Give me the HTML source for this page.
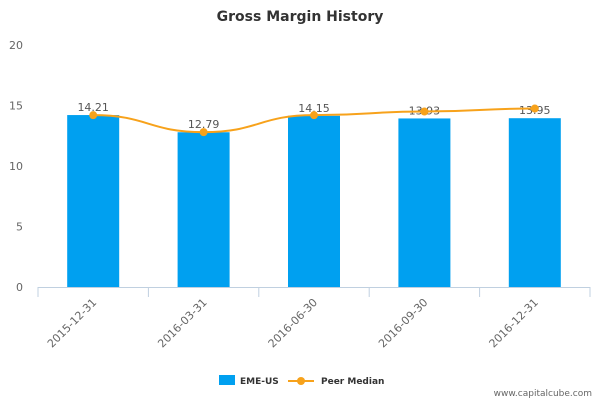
<!DOCTYPE html>
<html><head><meta charset="utf-8"><style>
body{margin:0;background:#fff;font-family:"Liberation Sans",sans-serif}
svg text{font-family:"DejaVu Sans","Liberation Sans",sans-serif}
</style></head><body>
<svg id="c" width="600" height="400">
<text x="300" y="21" text-anchor="middle" font-size="14" font-weight="bold" fill="#333">Gross Margin History</text>
<g id="yaxis"></g><g id="bars"></g><g id="line"></g><g id="xaxis"></g>
<g>
<rect x="219" y="375" width="16" height="10" fill="#00a0f0"/>
<text x="240" y="384" font-size="9" font-weight="bold" fill="#333">EME-US</text>
<line x1="288" y1="381" x2="314" y2="381" stroke="#f7a21b" stroke-width="2"/>
<circle cx="301" cy="381" r="4" fill="#f7a21b"/>
<text x="321" y="384" font-size="9" font-weight="bold" fill="#333">Peer Median</text>
</g>
<text x="592" y="396" text-anchor="end" font-size="9" fill="#666">www.capitalcube.com</text>
</svg>
<script>
const categories=["2015-12-31","2016-03-31","2016-06-30","2016-09-30","2016-12-31"];
const barValues=[14.21,12.79,14.15,13.93,13.95];
const peerValues=[14.2,12.8,14.2,14.5,14.75];
const yTicks=[0,5,10,15,20];
const NS="http://www.w3.org/2000/svg";
const x0=38,x1=590,yBase=287,pxPerUnit=12.1;
const band=(x1-x0)/categories.length;
const xC=i=>x0+band*(i+0.5);
const yS=v=>yBase-v*pxPerUnit;
function mk(t,a,p){const e=document.createElementNS(NS,t);for(const k in a)e.setAttribute(k,a[k]);p.appendChild(e);return e;}
const ya=document.getElementById('yaxis');
yTicks.forEach(v=>{const t=mk('text',{x:23,y:yS(v)+4,'text-anchor':'end','font-size':11,fill:'#666'},ya);t.textContent=v;

});
const bg=document.getElementById('bars');
barValues.forEach((v,i)=>{const r=mk('rect',{x:xC(i)-26,y:yS(v),width:52,height:v*pxPerUnit,fill:'#00a0f0'},bg);


const t=mk('text',{x:xC(i),y:yS(v)-4,'text-anchor':'middle','font-size':11,fill:'#555'},bg);t.textContent=v.toFixed(2);

});
const lg=document.getElementById('line');
const pts=peerValues.map((v,i)=>[xC(i),yS(v)]);
let d='M'+pts[0][0]+','+pts[0][1];
for(let i=1;i<pts.length;i++){const p=pts[i-1],q=pts[i],dx=(q[0]-p[0])/2;d+=` C${p[0]+dx},${p[1]} ${q[0]-dx},${q[1]} ${q[0]},${q[1]}`;}
const path=mk('path',{d:d,fill:'none',stroke:'#f7a21b','stroke-width':2},lg);


pts.forEach((p,i)=>{const c=mk('circle',{cx:p[0],cy:p[1],r:4,fill:'#f7a21b'},lg);

});
const xa=document.getElementById('xaxis');
const ax=mk('line',{x1:x0,y1:yBase+0.5,x2:x1,y2:yBase+0.5,stroke:'#c0d0e0'},xa);


for(let i=0;i<=categories.length;i++){mk('line',{x1:x0+band*i,y1:yBase,x2:x0+band*i,y2:yBase+10,stroke:'#c0d0e0'},xa);}
categories.forEach((c,i)=>{const x=xC(i)+4,y=yBase+16;const t=mk('text',{x:x,y:y,'text-anchor':'end','font-size':11,fill:'#666',transform:`rotate(-45 ${x} ${y})`},xa);t.textContent=c;

});
</script>
</body></html>
